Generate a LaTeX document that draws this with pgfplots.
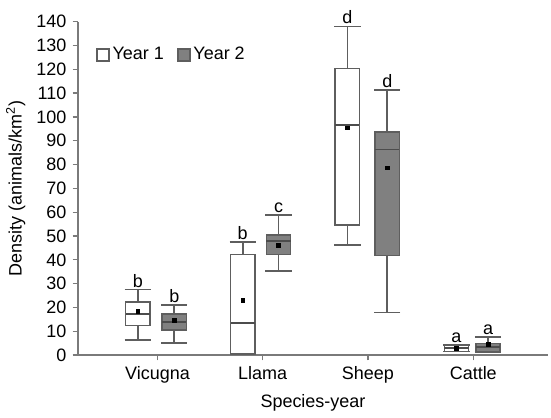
\documentclass[border=0pt]{standalone}
\usepackage{pgfplots}
\pgfplotsset{compat=1.18}
\usepgfplotslibrary{statistics}
\usepackage{fontspec}
\setmainfont{Liberation Sans}
\definecolor{boxedge}{HTML}{5E5E5E}
\definecolor{boxfill}{HTML}{808080}
\definecolor{axisgray}{HTML}{7A7A7A}

\begin{document}
\fontsize{13.5}{16}\selectfont
\begin{tikzpicture}
\begin{axis}[
    scale only axis,
    width=353pt, height=250.5pt,
    xmin=0.245, xmax=4.71, ymin=0, ymax=140,
    axis lines=left,
    axis line style={axisgray, line width=1.2pt, -},
    xtick={1,2,3,4},
    xticklabels={Vicugna, Llama, Sheep, Cattle},
    ytick={0,10,...,140},
    tick style={axisgray, line width=1pt},
    tick align=outside,
    major tick length=4pt,
    /pgf/number format/assume math mode=true,
    ylabel={Density (animals/km\textsuperscript{2})},
    xlabel={Species-year},
    xlabel style={yshift=1pt},
    ylabel style={yshift=-1pt},
    boxplot/draw direction=y,
    boxplot/box extend=0.23,
    boxplot/whisker extend=0.25,
    boxplot/every median/.style={draw=black!70, line width=1.4pt},
    legend style={at={(0.03,0.94)}, anchor=north west, draw=none, fill=none,
                  legend columns=2, /tikz/every even column/.append style={column sep=8pt}},
    legend image code/.code={\draw[#1] (0pt,-4.5pt) rectangle (9pt,4.5pt);},
]
% Year 1 (white)
\addplot+[forget plot, mark=none, solid, line width=1.2pt, draw=boxedge, fill=white, boxplot prepared={lower whisker=6.3, lower quartile=12.5, median=17.3, upper quartile=22.2, upper whisker=27.5, draw position=0.813}] coordinates {};
\addplot+[forget plot, mark=none, solid, line width=1.2pt, draw=boxedge, fill=white, boxplot prepared={lower whisker=0.2, lower quartile=0.6, median=13.5, upper quartile=42.2, upper whisker=47.5, draw position=1.81}] coordinates {};
\addplot+[forget plot, mark=none, solid, line width=1.2pt, draw=boxedge, fill=white, boxplot prepared={lower whisker=46.1, lower quartile=54.7, median=96.5, upper quartile=120.3, upper whisker=138, draw position=2.804}] coordinates {};
\addplot+[forget plot, mark=none, solid, line width=1.2pt, draw=boxedge, fill=white, boxplot prepared={lower whisker=1.6, lower quartile=1.6, median=2.9, upper quartile=4.2, upper whisker=4.2, draw position=3.84}] coordinates {};
% Year 2 (grey)
\addplot+[forget plot, mark=none, solid, line width=1.2pt, draw=boxedge, fill=boxfill, boxplot prepared={lower whisker=5.2, lower quartile=10.6, median=13.8, upper quartile=17.3, upper whisker=21.1, draw position=1.16}] coordinates {};
\addplot+[forget plot, mark=none, solid, line width=1.2pt, draw=boxedge, fill=boxfill, boxplot prepared={lower whisker=35.2, lower quartile=42.2, median=47.8, upper quartile=50.3, upper whisker=58.9, draw position=2.15}] coordinates {};
\addplot+[forget plot, mark=none, solid, line width=1.2pt, draw=boxedge, fill=boxfill, boxplot prepared={lower whisker=17.9, lower quartile=41.8, median=86.3, upper quartile=93.7, upper whisker=111.3, draw position=3.183}] coordinates {};
\addplot+[forget plot, mark=none, solid, line width=1.2pt, draw=boxedge, fill=boxfill, boxplot prepared={lower whisker=1.4, lower quartile=1.4, median=3.5, upper quartile=4.9, upper whisker=7.5, draw position=4.14}] coordinates {};
% means
\addplot[forget plot, only marks, mark=square*, mark size=1.4pt, black]
  coordinates {(0.813,18.3) (1.81,23) (2.804,95.4) (3.84,2.8) (1.16,14.7) (2.15,46.1) (3.183,78.6) (4.14,4.6)};
% significance letters
\addplot[forget plot, draw=none, nodes near coords, point meta=explicit symbolic,
  nodes near coords style={anchor=south, inner sep=1.5pt}]
  coordinates {(0.813,27.5)[b] (1.16,21.1)[b] (1.81,47.5)[b] (2.15,58.9)[c] (2.804,138)[d] (3.183,111.3)[d] (3.84,4.4)[a] (4.14,7.5)[a]};
\addlegendimage{draw=boxedge, line width=1.2pt, fill=white}
\addlegendentry{Year 1}
\addlegendimage{draw=boxedge, line width=1.2pt, fill=boxfill}
\addlegendentry{Year 2}
\end{axis}
\path (current axis.south west) +(-57.75pt,-42.3pt) (current axis.north east) +(2.25pt,16.2pt);
\end{tikzpicture}
\end{document}
